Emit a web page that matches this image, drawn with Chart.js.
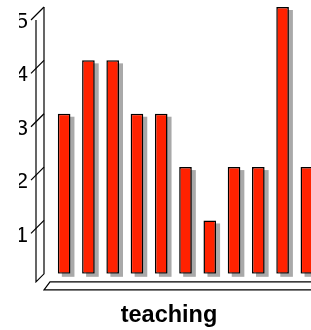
<!DOCTYPE html>
<html>
<head>
<meta charset="utf-8">
<script src="https://cdn.jsdelivr.net/npm/chart.js@4"></script>
<style>
  html, body { margin: 0; padding: 0; background: #fff; overflow: hidden; }
  #wrap { width: 338px; height: 330px; }
</style>
</head>
<body>
<div id="wrap"><canvas id="teachingChart"></canvas></div>
<script>
var categories = ['1', '2', '3', '4', '5', '6', '7', '8', '9', '10', '11'];
var counts = [3, 4, 4, 3, 3, 2, 1, 2, 2, 5, 2];
var yTicks = [1, 2, 3, 4, 5];
var axisTitle = 'teaching';

// fake 3D: wall on the left, floor below, grey shadow behind each bar
var depthPlugin = {
    id: 'depth',
    beforeDatasetsDraw: function(chart) {
        var ctx = chart.ctx;
        var area = chart.chartArea;
        var y = chart.scales.y;
        var base = y.getPixelForValue(0);
        var top = y.getPixelForValue(y.max);
        var back = area.left - 8, front = area.left - 16;
        ctx.save();
        ctx.strokeStyle = '#000';
        ctx.lineWidth = 1.2;
        ctx.beginPath();
        ctx.moveTo(back, top); ctx.lineTo(back, base);
        ctx.lineTo(front, base + 8); ctx.lineTo(front, top + 13);
        ctx.stroke();
        yTicks.forEach(function(v) {
            var py = y.getPixelForValue(v);
            ctx.beginPath();
            ctx.moveTo(back, py);
            ctx.lineTo(back - 13, py + 13);
            ctx.stroke();
        });
        // floor
        ctx.beginPath();
        ctx.moveTo(chart.width, base + 8);
        ctx.lineTo(area.left - 2, base + 8);
        ctx.lineTo(back, base + 16);
        ctx.lineTo(chart.width, base + 16);
        ctx.stroke();
        // shadows
        ctx.fillStyle = '#a9a9a9';
        chart.getDatasetMeta(0).data.forEach(function(bar) {
            var p = bar.getProps(['x', 'y', 'base', 'width'], true);
            ctx.fillRect(p.x - p.width / 2 + 4, p.y + 3, p.width, p.base - p.y);
        });
        ctx.restore();
    }
};

var ctx = document.getElementById('teachingChart').getContext('2d');
new Chart(ctx, {
    type: 'bar',
    data: {
        labels: categories,
        datasets: [{
            data: counts,
            backgroundColor: '#ff2200',
            borderColor: '#000',
            borderWidth: 1.5,
            borderSkipped: false,
            barPercentage: 0.52,
            categoryPercentage: 1
        }]
    },
    options: {
        responsive: true,
        maintainAspectRatio: false,
        animation: false,
        layout: { padding: { top: 7, right: 19, bottom: 0, left: 19 } },
        plugins: {
            legend: { display: false },
            tooltip: { enabled: false },
            title: {
                display: true,
                position: 'bottom',
                text: axisTitle,
                color: '#000',
                font: { family: 'Liberation Sans, Arial, sans-serif', size: 23.5, weight: 'bold' },
                padding: { top: 28, bottom: 0 }
            }
        },
        scales: {
            x: { display: false },
            y: {
                min: 0,
                max: 5,
                grid: { display: false },
                border: { display: false },
                afterFit: function(scale) {
                    scale.width = 33;
                    scale.paddingTop = 0;
                    scale.paddingBottom = 0;
                },
                ticks: {
                    stepSize: 1,
                    padding: 16,
                    labelOffset: 15,
                    color: '#000',
                    font: { family: 'Liberation Sans, Arial, sans-serif', size: 22 },
                    callback: function(v) { return v === 0 ? '' : v; }
                }
            }
        }
    },
    plugins: [depthPlugin]
});
</script>
</body>
</html>
